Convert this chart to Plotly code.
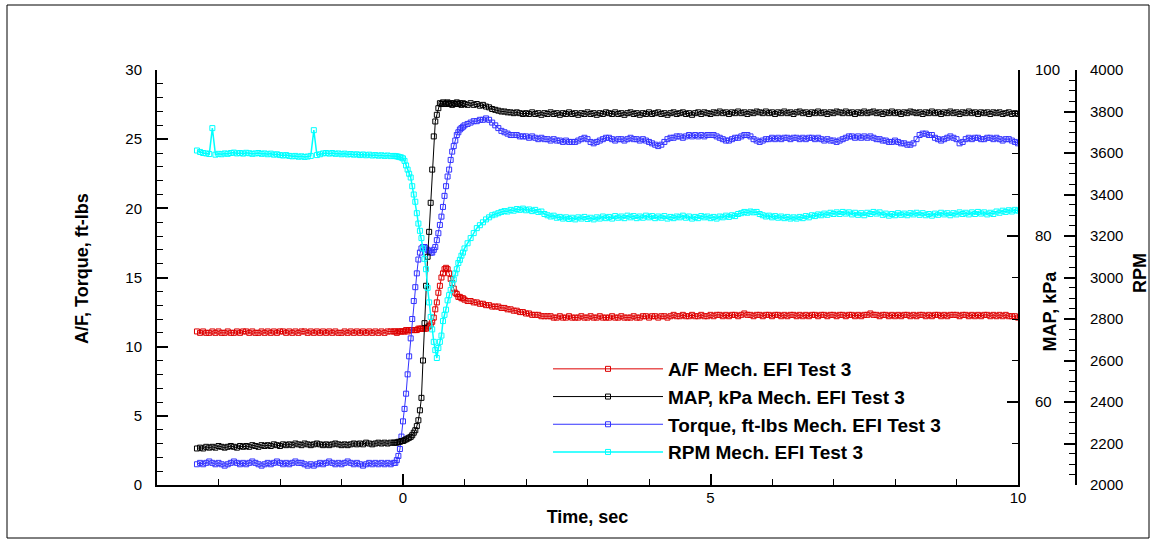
import numpy as np
import plotly.graph_objects as go

# ---------------- data ----------------
# sampling clock: slow before / after the step, fast during the step
T_PRE = np.round(-3.35 + 0.05 * np.arange(65), 3)      # -3.35 .. -0.15
T_TRANS = np.round(-0.125 + 0.025 * np.arange(45), 3)  # -0.125 .. 0.975
T_POST = np.round(1.0 + 0.05 * np.arange(181), 3)      # 1.00 .. 10.00

AF_PRE = [11.1, 11.0, 11.1, 11.0, 11.0, 11.1, 11.0, 11.1, 11.0, 11.0,
          11.1, 11.0, 11.0, 11.1, 11.0, 11.1, 11.1, 11.0, 11.1, 11.0,
          11.0, 11.1, 11.0, 11.1, 11.0, 11.1, 11.0, 11.1, 11.1, 11.0,
          11.1, 11.0, 11.1, 11.0, 11.1, 11.1, 11.0, 11.1, 11.0, 11.1,
          11.0, 11.1, 11.0, 11.1, 11.0, 11.1, 11.0, 11.0, 11.1, 11.0,
          11.1, 11.0, 11.1, 11.0, 11.1, 11.0, 11.1, 11.0, 11.1, 11.0,
          11.1, 11.0, 11.1, 11.1, 11.1]
AF_TRANS = [11.1, 11.0, 11.1, 11.1, 11.1, 11.1, 11.1, 11.2, 11.1, 11.2,
            11.2, 11.2, 11.2, 11.2, 11.2, 11.3, 11.3, 11.3, 11.3, 11.3,
            11.3, 11.4, 11.5, 11.6, 11.8, 12.1, 12.7, 13.2, 13.9, 14.4,
            15.0, 15.3, 15.6, 15.7, 15.6, 15.3, 14.9, 14.6, 14.2, 13.9,
            13.8, 13.6, 13.6, 13.5, 13.5]
AF_POST = [13.4, 13.3, 13.3, 13.2, 13.2, 13.1, 13.1, 13.0, 13.0, 12.9,
           12.9, 12.9, 12.8, 12.8, 12.7, 12.7, 12.6, 12.6, 12.5, 12.5,
           12.4, 12.4, 12.3, 12.3, 12.3, 12.2, 12.2, 12.2, 12.2, 12.1,
           12.1, 12.2, 12.1, 12.1, 12.2, 12.1, 12.1, 12.1, 12.2, 12.1,
           12.1, 12.2, 12.1, 12.1, 12.2, 12.1, 12.1, 12.1, 12.2, 12.1,
           12.1, 12.2, 12.1, 12.1, 12.1, 12.2, 12.1, 12.1, 12.2, 12.2,
           12.1, 12.2, 12.2, 12.1, 12.2, 12.2, 12.1, 12.2, 12.3, 12.2,
           12.2, 12.3, 12.2, 12.2, 12.3, 12.2, 12.2, 12.3, 12.2, 12.2,
           12.3, 12.2, 12.3, 12.3, 12.2, 12.3, 12.2, 12.3, 12.3, 12.2,
           12.3, 12.4, 12.3, 12.3, 12.2, 12.3, 12.3, 12.2, 12.3, 12.3,
           12.2, 12.3, 12.3, 12.2, 12.3, 12.2, 12.3, 12.3, 12.2, 12.3,
           12.2, 12.3, 12.2, 12.3, 12.3, 12.2, 12.3, 12.3, 12.2, 12.3,
           12.3, 12.2, 12.3, 12.3, 12.2, 12.3, 12.3, 12.2, 12.3, 12.2,
           12.3, 12.3, 12.4, 12.3, 12.3, 12.2, 12.3, 12.3, 12.2, 12.3,
           12.2, 12.3, 12.2, 12.3, 12.3, 12.2, 12.3, 12.2, 12.3, 12.3,
           12.2, 12.3, 12.2, 12.3, 12.3, 12.2, 12.3, 12.2, 12.3, 12.3,
           12.3, 12.2, 12.3, 12.3, 12.2, 12.3, 12.2, 12.3, 12.2, 12.3,
           12.3, 12.2, 12.3, 12.2, 12.3, 12.2, 12.3, 12.2, 12.2, 12.2,
           12.1]

MAP_PRE = [54.4, 54.5, 54.4, 54.6, 54.5, 54.6, 54.5, 54.7, 54.6, 54.5,
           54.6, 54.7, 54.6, 54.5, 54.7, 54.6, 54.7, 54.6, 54.8, 54.7,
           54.6, 54.8, 54.7, 54.8, 54.7, 54.9, 54.8, 54.7, 54.9, 54.8,
           54.9, 54.8, 55.0, 54.9, 54.8, 55.0, 54.9, 54.8, 54.9, 55.0,
           54.9, 54.8, 54.9, 54.8, 54.9, 55.0, 54.9, 54.8, 54.9, 54.8,
           54.9, 55.0, 54.9, 55.0, 54.9, 55.1, 55.0, 54.9, 55.0, 55.1,
           55.0, 55.1, 55.0, 55.1, 55.1]
MAP_TRANS = [55.1, 55.1, 55.2, 55.2, 55.3, 55.3, 55.4, 55.5, 55.6, 55.7,
             55.8, 56.0, 56.3, 56.6, 57.1, 57.8, 59.0, 60.5, 65.0, 69.5,
             74.0, 77.5, 80.5, 84.0, 88.0, 92.0, 93.8, 94.6, 95.4, 96.0,
             95.9, 96.1, 95.9, 96.0, 96.1, 95.9, 96.0, 95.8, 96.0, 95.9,
             96.1, 95.9, 96.0, 95.8, 96.0]
MAP_POST = [95.9, 95.8, 96.0, 95.8, 95.9, 95.7, 95.8, 95.6, 95.5, 95.3,
            95.2, 95.1, 95.0, 95.0, 94.9, 94.9, 94.8, 94.9, 94.8, 94.7,
            94.8, 94.7, 94.9, 94.7, 94.8, 94.6, 94.8, 94.7, 94.9, 94.7,
            94.8, 94.6, 94.8, 94.7, 94.9, 94.7, 94.8, 94.6, 94.8, 94.7,
            94.9, 94.7, 94.8, 94.6, 94.8, 94.7, 94.9, 94.8, 94.7, 94.9,
            94.7, 94.8, 94.6, 94.8, 94.9, 94.7, 94.8, 94.6, 94.8, 94.7,
            94.9, 94.7, 94.8, 94.9, 94.7, 94.8, 94.6, 94.8, 94.9, 94.7,
            94.8, 94.9, 94.7, 94.8, 94.6, 94.8, 94.9, 94.7, 94.9, 94.8,
            94.7, 94.9, 94.8, 95.0, 94.8, 94.9, 94.7, 94.9, 94.8, 95.0,
            94.8, 94.9, 94.7, 94.9, 94.8, 95.0, 94.9, 94.8, 95.0, 94.8,
            94.9, 94.7, 94.9, 94.8, 95.0, 94.8, 94.9, 94.7, 94.9, 95.0,
            94.8, 94.9, 94.7, 94.9, 94.8, 95.0, 94.8, 94.9, 94.7, 94.9,
            94.8, 95.0, 94.9, 94.8, 95.0, 94.8, 94.9, 94.7, 94.9, 94.8,
            95.0, 94.8, 94.9, 95.0, 94.8, 94.9, 94.7, 94.9, 94.8, 95.0,
            94.8, 94.9, 94.7, 94.9, 94.8, 95.0, 94.9, 94.8, 94.9, 94.7,
            94.9, 94.8, 95.0, 94.8, 94.9, 94.7, 94.9, 94.8, 95.0, 94.8,
            94.9, 94.7, 94.9, 94.8, 95.0, 94.8, 94.9, 94.7, 94.9, 94.8,
            94.9, 94.7, 94.9, 94.8, 94.9, 94.7, 94.8, 94.9, 94.7, 94.8,
            94.7]

TQ_PRE = [1.5, 1.6, 1.5, 1.6, 1.7, 1.6, 1.5, 1.6, 1.5, 1.4,
          1.5, 1.6, 1.7, 1.6, 1.5, 1.6, 1.5, 1.6, 1.7, 1.6,
          1.5, 1.4, 1.5, 1.6, 1.5, 1.6, 1.7, 1.6, 1.5, 1.6,
          1.5, 1.6, 1.7, 1.6, 1.6, 1.5, 1.4, 1.5, 1.4, 1.5,
          1.6, 1.5, 1.6, 1.7, 1.6, 1.5, 1.6, 1.5, 1.6, 1.7,
          1.6, 1.5, 1.6, 1.5, 1.4, 1.5, 1.6, 1.5, 1.6, 1.5,
          1.6, 1.5, 1.6, 1.5, 1.6]
TQ_TRANS = [1.6, 1.8, 2.1, 2.6, 3.5, 4.6, 5.5, 6.6, 8.0, 9.3,
            10.6, 12.0, 13.3, 14.3, 15.3, 16.3, 16.8, 17.1, 17.2, 17.2,
            17.1, 17.0, 16.9, 16.8, 16.8, 17.0, 17.2, 17.7, 18.2, 18.8,
            19.4, 20.1, 20.9, 21.6, 22.3, 22.8, 23.5, 24.1, 24.5, 24.9,
            25.3, 25.5, 25.7, 25.8, 25.9]
TQ_POST = [26.0, 26.1, 26.2, 26.3, 26.3, 26.4, 26.4, 26.5, 26.4, 26.2,
           26.0, 25.8, 25.6, 25.5, 25.4, 25.3, 25.3, 25.3, 25.2, 25.2,
           25.2, 25.1, 25.2, 25.1, 25.0, 25.1, 25.0, 25.0, 24.9, 25.0,
           24.9, 24.9, 24.8, 24.9, 24.8, 24.8, 24.8, 24.9, 25.0, 25.1,
           25.0, 24.8, 24.7, 24.8, 24.9, 25.0, 25.1, 25.1, 25.0, 24.9,
           25.0, 25.0, 24.9, 25.0, 25.1, 25.0, 25.0, 24.9, 25.0, 24.9,
           24.8, 24.7, 24.6, 24.5, 24.6, 24.8, 25.0, 25.1, 25.1, 25.2,
           25.2, 25.1, 25.2, 25.3, 25.2, 25.3, 25.2, 25.3, 25.2, 25.3,
           25.3, 25.3, 25.2, 25.1, 25.0, 24.9, 24.9, 25.0, 25.1, 25.1,
           25.2, 25.3, 25.3, 25.2, 25.0, 24.9, 24.8, 24.9, 25.0, 25.0,
           25.1, 25.0, 25.1, 25.0, 25.1, 25.1, 25.0, 25.1, 25.1, 25.0,
           25.1, 25.0, 25.1, 25.1, 25.0, 25.1, 25.0, 24.9, 25.0, 24.9,
           24.9, 24.8, 24.9, 25.0, 25.1, 25.2, 25.2, 25.1, 25.2, 25.1,
           25.2, 25.1, 25.2, 25.1, 25.0, 25.0, 24.9, 24.9, 24.8, 24.8,
           24.9, 24.8, 24.7, 24.7, 24.6, 24.6, 24.7, 25.0, 25.3, 25.4,
           25.4, 25.3, 25.3, 25.1, 25.0, 24.9, 25.0, 25.1, 25.2, 25.1,
           25.0, 24.7, 24.8, 25.0, 25.1, 25.0, 25.1, 25.1, 25.0, 25.0,
           25.1, 25.1, 25.0, 25.1, 25.0, 24.9, 25.0, 25.0, 24.9, 24.8,
           24.7]

RPM_PRE = [3612, 3605, 3600, 3598, 3595, 3720, 3592, 3596, 3594, 3598,
           3596, 3600, 3602, 3598, 3600, 3597, 3601, 3599, 3596, 3598,
           3600, 3596, 3598, 3594, 3597, 3592, 3594, 3590, 3588, 3590,
           3586, 3584, 3586, 3582, 3584, 3581, 3583, 3586, 3710, 3590,
           3594, 3598, 3600, 3597, 3600, 3596, 3598, 3594, 3597, 3593,
           3595, 3592, 3594, 3590, 3593, 3589, 3592, 3588, 3590, 3587,
           3589, 3586, 3588, 3585, 3586]
RPM_TRANS = [3585, 3584, 3582, 3580, 3578, 3574, 3562, 3540, 3520, 3500,
             3482, 3440, 3400, 3365, 3310, 3260, 3225, 3190, 3140, 3090,
             3040, 2950, 2880, 2810, 2750, 2690, 2650, 2612, 2660, 2690,
             2720, 2790, 2820, 2845, 2890, 2915, 2940, 2970, 2990, 3020,
             3040, 3070, 3085, 3105, 3120]
RPM_POST = [3140, 3165, 3190, 3214, 3238, 3252, 3266, 3280, 3290, 3300,
            3304, 3310, 3316, 3320, 3318, 3326, 3322, 3330, 3326, 3332,
            3324, 3328, 3320, 3326, 3316, 3318, 3306, 3300, 3294, 3298,
            3288, 3292, 3284, 3290, 3282, 3288, 3280, 3290, 3284, 3292,
            3282, 3288, 3280, 3290, 3284, 3294, 3286, 3292, 3284, 3296,
            3288, 3294, 3286, 3298, 3290, 3296, 3286, 3294, 3288, 3298,
            3290, 3296, 3286, 3294, 3288, 3296, 3284, 3292, 3286, 3294,
            3290, 3298, 3288, 3294, 3284, 3292, 3286, 3296, 3290, 3294,
            3286, 3292, 3284, 3294, 3290, 3298, 3292, 3300, 3296, 3306,
            3310, 3316, 3312, 3318, 3314, 3316, 3306, 3300, 3294, 3298,
            3290, 3296, 3288, 3294, 3286, 3292, 3284, 3290, 3284, 3292,
            3286, 3296, 3290, 3300, 3296, 3304, 3300, 3308, 3302, 3312,
            3306, 3314, 3306, 3316, 3308, 3314, 3304, 3312, 3302, 3310,
            3300, 3312, 3306, 3316, 3308, 3314, 3302, 3308, 3298, 3306,
            3300, 3310, 3302, 3308, 3300, 3310, 3304, 3312, 3302, 3310,
            3300, 3306, 3298, 3308, 3302, 3312, 3304, 3310, 3300, 3310,
            3304, 3314, 3306, 3312, 3304, 3314, 3306, 3316, 3308, 3314,
            3304, 3312, 3306, 3318, 3312, 3322, 3316, 3324, 3318, 3326,
            3322]

TIME = np.concatenate([T_PRE, T_TRANS, T_POST])
AF = AF_PRE + AF_TRANS + AF_POST
MAP = MAP_PRE + MAP_TRANS + MAP_POST
TORQUE = TQ_PRE + TQ_TRANS + TQ_POST
RPM = RPM_PRE + RPM_TRANS + RPM_POST
for arr in (AF, MAP, TORQUE, RPM):
    assert len(arr) == len(TIME), (len(arr), len(TIME))

NAMES = ["A/F Mech. EFI Test 3", "MAP, kPa Mech. EFI Test 3",
         "Torque, ft-lbs Mech. EFI Test 3", "RPM Mech. EFI Test 3"]
COLORS = ["#dd0000", "#000000", "#3333ff", "#00ffff"]

# ---------------- layout geometry ----------------
W, H = 1151, 539
ML, MR, MT, MB = 157, 75, 70, 54
PW, PH = W - ML - MR, H - MT - MB
X_RIGHT = 1018  # right end of the time axis (px)


def px(xp):
    return (xp - ML) / PW


def py(yp):
    return (H - MB - yp) / PH


FONT = "Liberation Sans, Arial, sans-serif"

fig = go.Figure()
series = [(AF, "y"), (MAP, "y2"), (TORQUE, "y"), (RPM, "y3")]
for (vals, ax), name, col in zip(series, NAMES, COLORS):
    fig.add_trace(go.Scatter(
        x=TIME, y=vals, name=name, yaxis=ax, mode="lines+markers",
        line=dict(color=col, width=1.5 if col == "#00ffff" else 1),
        marker=dict(symbol="square-open", size=5, color=col,
                    line=dict(color=col, width=1)),
    ))

tickfont = dict(family=FONT, size=15, color="black")
common = dict(showgrid=False, zeroline=False, showline=True, linecolor="black",
              linewidth=2, ticks="inside", tickcolor="black", tickwidth=1.5,
              ticklen=11, tickfont=tickfont, automargin=False)
minor = dict(ticks="inside", ticklen=6, tickcolor="black", tickwidth=1, showgrid=False)

fig.update_layout(
    width=W, height=H,
    margin=dict(l=ML, r=MR, t=MT, b=MB, pad=0),
    paper_bgcolor="white", plot_bgcolor="white",
    font=dict(family=FONT, color="black"),
    xaxis=dict(domain=[0, px(X_RIGHT)], range=[-4, 10], tick0=0, dtick=5,
               minor=dict(dtick=1, **minor), ticklabelstandoff=-2,
               title=dict(text="Time, sec", standoff=5,
                          font=dict(family=FONT, size=18, weight="bold")),
               **common),
    yaxis=dict(range=[0, 30], tick0=0, dtick=5, minor=dict(dtick=1, **minor),
               ticklabelstandoff=10, **common),
    yaxis2=dict(range=[50, 100], tick0=0, dtick=20, overlaying="y", side="right",
                anchor="x", minor=dict(dtick=5, **minor), ticklabelstandoff=12,
                **common),
    yaxis3=dict(range=[2000, 4000], tick0=2000, dtick=200, overlaying="y",
                side="right", anchor="free", position=1.0,
                minor=dict(dtick=50, **minor), ticklabelstandoff=10, **common),
    legend=dict(x=px(548), y=py(350), xanchor="left", yanchor="top",
                bgcolor="rgba(0,0,0,0)", borderwidth=0, itemwidth=110,
                font=dict(family=FONT, size=19, color="black", weight="bold")),
    showlegend=True,
)

titles = [("A/F, Torque, ft-lbs", 82, 269), ("MAP, kPa", 1049.5, 311), ("RPM", 1140, 273)]
for text, xp, yp in titles:
    fig.add_annotation(text=text, x=px(xp), y=py(yp), xref="paper", yref="paper",
                       xanchor="center", yanchor="middle", textangle=-90, showarrow=False,
                       font=dict(family=FONT, size=18, color="black", weight="bold"))

# outer frame of the figure
fig.add_shape(type="rect", xref="paper", yref="paper",
              x0=px(7), y0=py(538), x1=px(1149), y1=py(5),
              line=dict(color="black", width=1), layer="below")

fig.write_html("out.html")
